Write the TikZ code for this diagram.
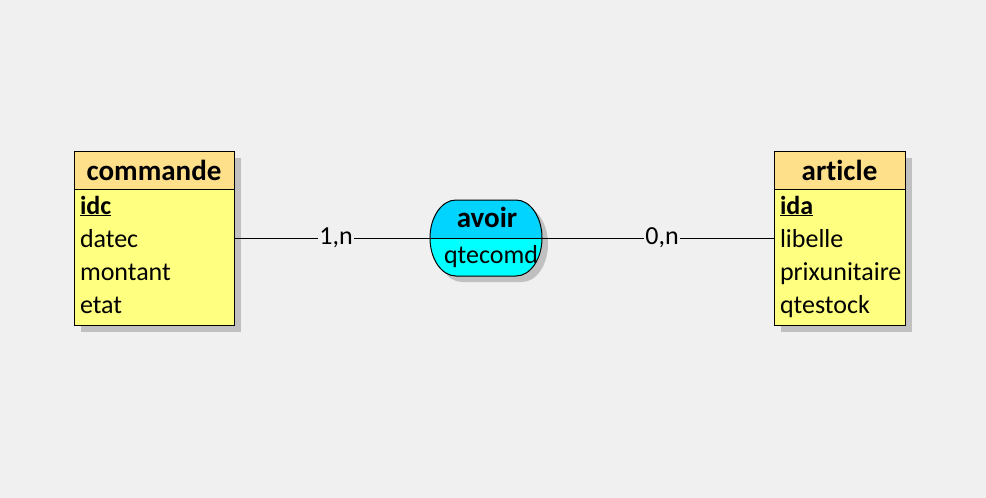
\documentclass[tikz,border=0pt]{standalone}
\usepackage{fontspec}
\setmainfont{Carlito}[Ligatures=NoCommon]
\usetikzlibrary{shadows,positioning}
\usepackage{xcolor}
\definecolor{bg}{HTML}{F0F0F0}
\definecolor{hdcol}{HTML}{FFE08A}
\definecolor{bdcol}{HTML}{FFFF80}
\definecolor{ascol}{HTML}{00D4FF}
\definecolor{ascol2}{HTML}{00FFFF}
\definecolor{shcol}{HTML}{C0C0C0}

\begin{document}
\begin{tikzpicture}[x=1pt,y=-1pt,
  every node/.style={inner sep=0pt,outer sep=0pt},%
  dr/.style={drop shadow={shadow xshift=7pt,shadow yshift=-7pt,fill=shcol,opacity=1}},%
  hd/.style={draw=black,line width=1pt,fill=hdcol,minimum height=38pt,%
    font=\fontsize{29}{30}\selectfont\bfseries},%
  bd/.style={draw=black,line width=1pt,fill=bdcol,minimum height=136pt},%
  fd/.style={anchor=base west,font=\fontsize{26}{30}\selectfont},%
  ti/.style={anchor=base,font=\fontsize{29}{30}\selectfont\bfseries},%
  as/.style={draw=black,line width=1pt,fill=ascol2,%
    drop shadow={shadow xshift=6pt,shadow yshift=-6pt,fill=shcol,opacity=1},%
    path picture={\fill[ascol] (path picture bounding box.north west)
    rectangle (path picture bounding box.east);}},%
  e/.style={draw=black,line width=1pt},%
  card/.style={fill=bg,inner xsep=1pt,xshift=4pt,font=\fontsize{26}{30}\selectfont}
  ]
  \fill[bg] (0,0) rectangle (986,498);
  \useasboundingbox (0,0) rectangle (986,498);

  % entity commande
  \node (commande) [hd,dr,minimum width=160pt] at (154,170) {commande};
  \node (commandebd) [bd,dr,minimum width=160pt,below=0pt of commande] {};
  \node (idc) [fd] at (80,214) {\underline{\textbf{idc}}};
  \node (datec) [fd] at (80,247) {datec};
  \node (montant) [fd] at (80,280) {montant};
  \node (etat) [fd] at (80,313) {etat};

  % entity article
  \node (article) [hd,dr,minimum width=131pt] at (839.5,170) {article};
  \node (articlebd) [bd,dr,minimum width=131pt,below=0pt of article] {};
  \node (ida) [fd] at (780,214) {\underline{\textbf{ida}}};
  \node (libelle) [fd] at (780,247) {libelle};
  \node (prix) [fd] at (780,280) {prixunitaire};
  \node (qtestock) [fd] at (780,313) {qtestock};

  % association avoir
  \node (avoir) [minimum width=112pt,minimum height=76pt] at (486,238) {};
  \path [as] ([xshift=26pt]avoir.north west) -- ([xshift=-26pt]avoir.north east)
    arc [start angle=90,end angle=-90,x radius=26pt,y radius=38pt]
    -- ([xshift=26pt]avoir.south west)
    arc [start angle=270,end angle=90,x radius=26pt,y radius=38pt] -- cycle;
  \draw [e] (avoir.west) -- (avoir.east);
  \node (avoirti) [ti] at (487,227) {avoir};
  \node (qtecomd) [fd,anchor=base] at (491,263) {qtecomd};

  \draw [e] (avoir.west) -- (avoir.west -| commandebd.east) node [midway,card] {1,n};
  \draw [e] (avoir.east) -- (avoir.east -| articlebd.west) node [midway,card] {0,n};
\end{tikzpicture}
\end{document}
